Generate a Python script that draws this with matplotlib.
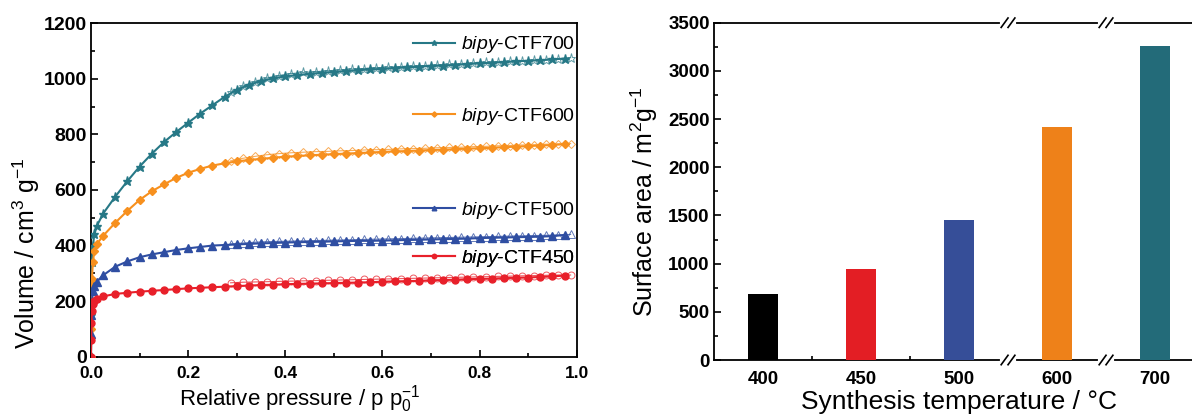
import numpy as np
import matplotlib
matplotlib.use("Agg")
import matplotlib.pyplot as plt
from matplotlib.ticker import MultipleLocator, FixedLocator, FormatStrFormatter

plt.rcParams["font.family"] = ["Liberation Sans", "DejaVu Sans"]
plt.rcParams["mathtext.fontset"] = "custom"
plt.rcParams["mathtext.rm"] = "Liberation Sans"
plt.rcParams["mathtext.it"] = "Liberation Sans:italic"
plt.rcParams["mathtext.bf"] = "Liberation Sans:bold"

# ── N2 isotherms (adsorption branch) ─────────────────────────────────────────
p_ads = [0.0, 0.0005, 0.001, 0.002, 0.004, 0.007, 0.012,
         0.025, 0.05, 0.075, 0.10, 0.125, 0.15, 0.175, 0.20, 0.225, 0.25,
         0.275, 0.30, 0.325, 0.35, 0.375, 0.40, 0.425, 0.45, 0.475, 0.50,
         0.525, 0.55, 0.575, 0.60, 0.625, 0.65, 0.675, 0.70, 0.725, 0.75,
         0.775, 0.80, 0.825, 0.85, 0.875, 0.90, 0.925, 0.95, 0.975]

v700_ads = [0, 150, 260, 340, 400, 440, 470,
            515, 576, 632, 684, 730, 772, 808, 842, 875, 905,
            935, 960, 978, 992, 1002, 1009, 1014, 1018, 1022, 1025,
            1028, 1031, 1034, 1036, 1039, 1041, 1044, 1046, 1048, 1050,
            1053, 1056, 1058, 1060, 1063, 1065, 1067, 1070, 1073]
v600_ads = [0, 100, 200, 280, 340, 380, 405,
            435, 482, 525, 564, 595, 620, 643, 662, 676, 688,
            696, 703, 708, 712, 716, 720, 722, 725, 727, 729,
            731, 733, 735, 737, 739, 740, 742, 744, 745, 747,
            749, 750, 752, 754, 756, 758, 760, 762, 765]
v500_ads = [0, 80, 150, 200, 235, 255, 270,
            293, 324, 343, 358, 368, 376, 384, 390, 395, 400,
            402, 404, 406, 408, 409, 411, 412, 413, 414, 415,
            416, 417, 417, 418, 419, 420, 421, 422, 423, 424,
            425, 427, 428, 429, 430, 431, 432, 434, 438]
v450_ads = [0, 60, 120, 165, 190, 200, 207,
            217, 226, 230, 234, 237, 240, 243, 246, 248, 250,
            252, 254, 256, 258, 259, 261, 262, 263, 264, 265,
            266, 267, 268, 270, 271, 272, 273, 275, 276, 277,
            279, 280, 281, 283, 284, 285, 287, 289, 292]

# desorption branch
p_des = [0.9875, 0.9625, 0.9375, 0.9125, 0.8875, 0.8625, 0.8375, 0.8125,
         0.7875, 0.7625, 0.7375, 0.7125, 0.6875, 0.6625, 0.6375, 0.6125,
         0.5875, 0.5625, 0.5375, 0.5125, 0.4875, 0.4625, 0.4375, 0.4125,
         0.3875, 0.3625, 0.3375, 0.3125, 0.2875]

v700_des = [1076, 1072, 1069, 1067, 1065, 1063, 1061, 1059, 1057, 1054,
            1052, 1050, 1048, 1046, 1044, 1042, 1040, 1037, 1035, 1032,
            1029, 1026, 1023, 1019, 1012, 1003, 990, 974, 952]
v600_des = [767, 766, 765, 763, 762, 760, 759, 757, 756, 754,
            753, 752, 750, 749, 748, 746, 745, 744, 742, 741,
            739, 738, 736, 734, 731, 727, 721, 714, 705]
v500_des = [440, 438, 437, 436, 435, 434, 433, 432, 431, 430,
            429, 428, 427, 426, 425, 424, 423, 422, 421, 420,
            419, 418, 417, 416, 415, 414, 412, 409, 406]
v450_des = [294, 294, 293, 292, 291, 290, 289, 288, 287, 286,
            285, 284, 283, 282, 281, 280, 279, 278, 277, 276,
            275, 274, 273, 272, 271, 270, 269, 268, 266]

series_labels = ["bipy-CTF700", "bipy-CTF600", "bipy-CTF500", "bipy-CTF450"]

# ── BET surface area vs. synthesis temperature ───────────────────────────────
temps = ["400", "450", "500", "600", "700"]
surface_area = [680, 940, 1450, 2415, 3260]
bar_colors = ["#000000", "#e31e24", "#364e98", "#ee8119", "#236b79"]

fig = plt.figure(figsize=(11.92, 4.19), dpi=100)
ax1 = fig.add_axes([0.0763, 0.1487, 0.4075, 0.7957])
ax2 = fig.add_axes([0.5990, 0.1408, 0.4111, 0.8050])

styles = [
    ("#267886", "*", 6.5),
    ("#f7901e", "D", 4.5),
    ("#2f4ea2", "^", 5.5),
    ("#e8202a", "o", 5.0),
]
ads = [v700_ads, v600_ads, v500_ads, v450_ads]
des = [v700_des, v600_des, v500_des, v450_des]
legend_y = [0.935, 0.720, 0.438, 0.295]

for (color, marker, ms), va, vd, lab, ly in zip(styles, ads, des, series_labels, legend_y):
    ax1.plot(p_des, vd, color=color, lw=0.8, marker=marker, ms=ms,
             mfc="none", mec=color, mew=0.7, alpha=0.75, zorder=2)
    h, = ax1.plot(p_ads, va, color=color, lw=1.5, marker=marker, ms=ms,
                  mfc=color, mec=color, zorder=3)
    name, num = lab.split("-")
    leg = ax1.legend([h], [rf"$\mathit{{{name}}}$-{num}"], loc="center right",
                     bbox_to_anchor=(0.997, ly), frameon=False, fontsize=14,
                     handlelength=2.2, handletextpad=0.3, borderpad=0,
                     borderaxespad=0, numpoints=1, markerscale=0.6)
    ax1.add_artist(leg)

ax1.set_xlim(0, 1.0)
ax1.set_ylim(0, 1200)
ax1.xaxis.set_major_locator(MultipleLocator(0.2))
ax1.xaxis.set_minor_locator(MultipleLocator(0.1))
ax1.yaxis.set_major_locator(MultipleLocator(200))
ax1.yaxis.set_minor_locator(MultipleLocator(100))
ax1.xaxis.set_major_formatter(FormatStrFormatter("%.1f"))
ax1.tick_params(which="both", direction="in", width=1.2)
ax1.tick_params(which="major", length=5)
ax1.tick_params(which="minor", length=3)
ax1.tick_params(axis="x", labelsize=12.5, pad=6.5)
ax1.tick_params(axis="y", labelsize=14, pad=3)
for t in ax1.get_xticklabels() + ax1.get_yticklabels():
    t.set_fontweight("bold")
for s in ax1.spines.values():
    s.set_linewidth(1.3)
ax1.set_xlabel(r"Relative pressure / p p$_0^{-1}$", fontsize=16, labelpad=2, x=0.43)
ax1.set_ylabel(r"Volume / cm$^3$ g$^{-1}$", fontsize=18, labelpad=1, y=0.31)

# bar chart
xpos = np.arange(len(temps))
ax2.bar(xpos, surface_area, width=0.31, color=bar_colors, zorder=3)
ax2.set_xlim(-0.5, 4.5)
ax2.set_ylim(0, 3500)
ax2.set_xticks(xpos)
ax2.set_xticklabels(temps)
ax2.xaxis.set_minor_locator(FixedLocator([0.5, 1.5]))
ax2.yaxis.set_major_locator(MultipleLocator(500))
ax2.yaxis.set_minor_locator(MultipleLocator(250))
ax2.tick_params(which="both", direction="in", width=1.2)
ax2.tick_params(axis="y", which="major", length=5, labelsize=13.5, pad=3)
ax2.tick_params(axis="y", which="minor", length=3)
ax2.tick_params(axis="x", which="major", length=0, labelsize=13.5, pad=8)
ax2.tick_params(axis="x", which="minor", length=3)
for t in ax2.get_xticklabels() + ax2.get_yticklabels():
    t.set_fontweight("bold")
for s in ax2.spines.values():
    s.set_linewidth(1.3)
ax2.set_xlabel("Synthesis temperature / °C", fontsize=19, labelpad=1)
ax2.set_ylabel(r"Surface area / m$^2$g$^{-1}$", fontsize=18, labelpad=6, y=0.47)

# axis breaks between 500/600 and 600/700
trans = ax2.get_xaxis_transform()
for xb in (2.5, 3.5):
    for yb in (0.0, 1.0):
        ax2.plot([xb - 0.06, xb + 0.06], [yb, yb], color="white", lw=3,
                 transform=trans, clip_on=False, zorder=5)
        for dx in (-0.035, 0.035):
            ax2.plot([xb + dx - 0.035, xb + dx + 0.035], [yb - 0.014, yb + 0.014],
                     color="black", lw=1.2, transform=trans, clip_on=False,
                     zorder=6)

fig.savefig("out.png", dpi=100)
